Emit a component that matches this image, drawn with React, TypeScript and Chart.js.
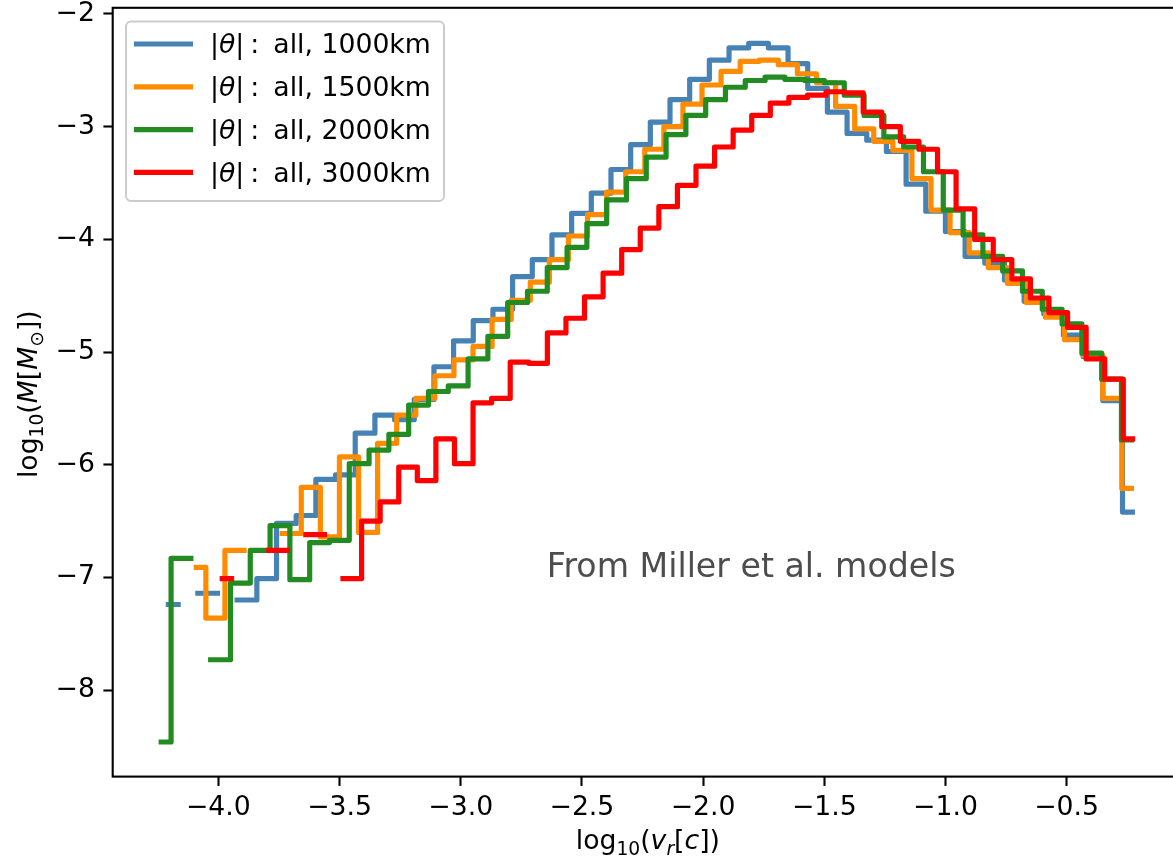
import React, { useEffect, useRef } from 'react';
import { Chart, registerables } from 'chart.js';

Chart.register(...registerables);

// ---- data -----------------------------------------------------------------
const SERIES_NAMES = ['all, 1000km', 'all, 1500km', 'all, 2000km', 'all, 3000km'];
const SERIES_COLORS = ['#4682B4', '#FF8C00', '#228B22', '#FF0000'];

// histogram bins: centre of first and last bin, 50 bins per series
const BIN_COUNT = 50;
const BLUE_BINS = [-4.2065, -0.229];
const ORANGE_BINS = [-4.091, -0.233];
const GREEN_BINS = [-4.236, -0.233];
const RED_BINS = [-3.984, -0.228];

// log10(M) per bin (null = empty bin)
const BLUE_VALUES = [
  -7.24, null, -7.14, null, -7.2, -7.01, -6.52, -6.45, -6.13, -6.09,
  -5.72, -5.56, -5.6, -5.42, -5.13, -4.9, -4.72, -4.62, -4.33, -4.18,
  -3.96, -3.77, -3.59, -3.38, -3.16, -2.96, -2.76, -2.58, -2.41, -2.3,
  -2.26, -2.3, -2.44, -2.66, -2.87, -3.06, -3.12, -3.22, -3.51, -3.75,
  -3.93, -4.15, -4.21, -4.36, -4.55, -4.66, -4.85, -5.04, -5.43, -6.42,
];
const ORANGE_VALUES = [
  -6.91, -7.36, -6.76, null, null, -6.61, -6.2, -6.64, -5.93, -6.6,
  -5.81, -5.56, -5.41, -5.21, -5.07, -4.95, -4.71, -4.54, -4.38, -4.18,
  -3.97, -3.78, -3.58, -3.4, -3.2, -3.0, -2.8, -2.63, -2.51, -2.42,
  -2.41, -2.45, -2.53, -2.61, -2.82, -3.02, -3.13, -3.21, -3.46, -3.74,
  -3.94, -4.12, -4.25, -4.39, -4.56, -4.69, -4.89, -5.03, -5.41, -6.21,
];
const GREEN_VALUES = [
  -8.46, -6.83, null, -7.73, -7.05, -6.76, -6.54, -7.02, -6.69, -6.67,
  -5.99, -5.87, -5.73, -5.47, -5.35, -5.3, -5.06, -4.86, -4.56, -4.46,
  -4.25, -4.07, -3.86, -3.65, -3.46, -3.27, -3.07, -2.9, -2.76, -2.65,
  -2.59, -2.56, -2.58, -2.59, -2.61, -2.72, -2.9, -3.09, -3.18, -3.4,
  -3.74, -3.96, -4.15, -4.28, -4.46, -4.62, -4.75, -5.01, -5.24, -5.78,
];
const RED_VALUES = [
  -7.01, null, null, -6.76, null, -6.62, null, -7.01, -6.5, -6.33,
  -6.02, -6.14, -5.77, -5.99, -5.45, -5.41, -5.09, -5.1, -4.83, -4.7,
  -4.51, -4.3, -4.09, -3.9, -3.71, -3.52, -3.35, -3.18, -3.03, -2.9,
  -2.79, -2.74, -2.72, -2.69, -2.7, -2.87, -3.0, -3.13, -3.2, -3.4,
  -3.73, -4.0, -4.18, -4.35, -4.52, -4.65, -4.78, -5.06, -5.24, -5.77,
];

const X_TICKS = [-4.0, -3.5, -3.0, -2.5, -2.0, -1.5, -1.0, -0.5];
const Y_TICKS = [-8, -7, -6, -5, -4, -3, -2];
const X_LIMITS = [-4.436, -0.02];
const Y_LIMITS = [-8.767, -1.945];
const ANNOTATION = 'From Miller et al. models';
const ANNOTATION_AT = [-2.645, -7.0];

// ---- helpers ---------------------------------------------------------------
const FONT = "'DejaVu Sans', sans-serif";
const FS = 26.7;
const LINE_W = 5.2;

function binCentres(range: number[]) {
  const [a, b] = range;
  const out: number[] = [];
  for (let i = 0; i < BIN_COUNT; i++) out.push(a + ((b - a) * i) / (BIN_COUNT - 1));
  return out;
}

// matplotlib step(where='mid') vertex list
function stepPoints(xs: number[], ys: (number | null)[]) {
  const pts: { x: number; y: number | null }[] = [];
  pts.push({ x: xs[0], y: ys[0] });
  for (let i = 0; i < xs.length - 1; i++) {
    const m = (xs[i] + xs[i + 1]) / 2;
    pts.push({ x: m, y: ys[i] });
    pts.push({ x: m, y: ys[i + 1] });
  }
  pts.push({ x: xs[xs.length - 1], y: ys[ys.length - 1] });
  return pts;
}

const minus = (s: string) => s.replace('-', '\u2212');

type Run = { t: string; it?: boolean; sub?: boolean };
function drawRuns(ctx: CanvasRenderingContext2D, runs: Run[], x0: number, base: number, size: number, center: boolean) {
  const fontOf = (r: Run) => `${r.it ? 'italic ' : ''}${r.sub ? size * 0.7 : size}px ${FONT}`;
  const widths = runs.map((r) => {
    ctx.font = fontOf(r);
    return ctx.measureText(r.t).width;
  });
  const total = widths.reduce((s, w) => s + w, 0);
  let x = center ? x0 - total / 2 : x0;
  runs.forEach((r, i) => {
    ctx.font = fontOf(r);
    ctx.fillText(r.t, x, base + (r.sub ? size * 0.24 : 0));
    x += widths[i];
  });
}

const X_LABEL: Run[] = [
  { t: 'log' }, { t: '10', sub: true }, { t: '(' }, { t: 'v', it: true }, { t: 'r', it: true, sub: true },
  { t: '[' }, { t: 'c', it: true }, { t: '])' },
];
const Y_LABEL: Run[] = [
  { t: 'log' }, { t: '10', sub: true }, { t: '(' }, { t: 'M', it: true }, { t: '[' }, { t: 'M', it: true },
  { t: '\u2299', sub: true }, { t: '])' },
];

const overlay = {
  id: 'overlay',
  afterDraw(chart: any) {
    const ctx: CanvasRenderingContext2D = chart.ctx;
    const a = chart.chartArea;
    ctx.save();
    ctx.textAlign = 'left';
    ctx.textBaseline = 'alphabetic';

    // annotation text (data coordinates)
    ctx.fillStyle = '#4d4d4d';
    ctx.font = `33.2px ${FONT}`;
    ctx.fillText(ANNOTATION, chart.scales.x.getPixelForValue(ANNOTATION_AT[0]), chart.scales.y.getPixelForValue(ANNOTATION_AT[1]));

    // spines
    ctx.strokeStyle = '#000';
    ctx.lineWidth = 2.1;
    ctx.strokeRect(a.left, a.top, a.right - a.left, a.bottom - a.top);

    // legend
    const bx = a.left + 13.3, by = a.top + 13.7, bw = 318, bh = 179.5, r = 5;
    ctx.beginPath();
    ctx.moveTo(bx + r, by);
    ctx.arcTo(bx + bw, by, bx + bw, by + bh, r);
    ctx.arcTo(bx + bw, by + bh, bx, by + bh, r);
    ctx.arcTo(bx, by + bh, bx, by, r);
    ctx.arcTo(bx, by, bx + bw, by, r);
    ctx.closePath();
    ctx.fillStyle = 'rgba(255,255,255,0.8)';
    ctx.fill();
    ctx.strokeStyle = '#cccccc';
    ctx.lineWidth = 2;
    ctx.stroke();

    SERIES_NAMES.forEach((name, i) => {
      const cy = by + 22.5 + i * 42.8;
      ctx.strokeStyle = SERIES_COLORS[i];
      ctx.lineWidth = LINE_W;
      ctx.lineCap = 'square';
      ctx.beginPath();
      ctx.moveTo(bx + 10.5, cy);
      ctx.lineTo(bx + 64.5, cy);
      ctx.stroke();
      ctx.fillStyle = '#000';
      const base = cy + 9.3;
      let x = bx + 84;
      ctx.font = `${FS}px ${FONT}`;
      ctx.fillText('|', x, base);
      x += ctx.measureText('|').width;
      ctx.font = `italic ${FS}px ${FONT}`;
      ctx.fillText('\u03b8', x, base);
      x += ctx.measureText('\u03b8').width;
      ctx.font = `${FS}px ${FONT}`;
      ctx.fillText('|', x, base);
      x += ctx.measureText('|').width + 6;
      ctx.fillText(':', x, base);
      x += ctx.measureText(':').width + 14;
      ctx.fillText(name, x, base);
    });

    // axis labels
    ctx.fillStyle = '#000';
    drawRuns(ctx, X_LABEL, (a.left + a.right) / 2, 849, FS, true);
    ctx.save();
    ctx.translate(37, (a.top + a.bottom) / 2 + 2);
    ctx.rotate(-Math.PI / 2);
    drawRuns(ctx, Y_LABEL, 0, 0, FS, true);
    ctx.restore();

    ctx.restore();
  },
};

export default function App() {
  const ref = useRef<HTMLCanvasElement>(null);
  useEffect(() => {
    const canvas = ref.current;
    if (!canvas) return;
    const ranges = [BLUE_BINS, ORANGE_BINS, GREEN_BINS, RED_BINS];
    const values = [BLUE_VALUES, ORANGE_VALUES, GREEN_VALUES, RED_VALUES];
    const datasets = values.map((vals, i) => ({
      label: SERIES_NAMES[i],
      data: stepPoints(binCentres(ranges[i]), vals),
      borderColor: SERIES_COLORS[i],
      backgroundColor: SERIES_COLORS[i],
      borderWidth: LINE_W,
      borderCapStyle: 'square' as const,
      borderJoinStyle: 'round' as const,
      pointRadius: 0,
      pointHoverRadius: 0,
      spanGaps: false,
      fill: false,
      tension: 0,
      order: 4 - i,
    }));
    const tickFont = { family: FONT, size: FS };
    const chart = new Chart(canvas, {
      type: 'line',
      data: { datasets },
      plugins: [overlay],
      options: {
        responsive: false,
        animation: false,
        devicePixelRatio: 1,
        layout: { padding: { left: 0, top: 7.8, right: 17, bottom: 0 } },
        plugins: { legend: { display: false }, tooltip: { enabled: false } },
        scales: {
          x: {
            type: 'linear',
            min: X_LIMITS[0],
            max: X_LIMITS[1],
            afterBuildTicks: (s: any) => { s.ticks = X_TICKS.map((v) => ({ value: v })); },
            afterFit: (s: any) => { s.height = 82.4; s.paddingLeft = 0; s.paddingRight = 0; },
            grid: { display: true, drawOnChartArea: false, drawTicks: true, tickLength: 9.3, tickWidth: 2.1, tickColor: '#000' },
            border: { display: false },
            ticks: {
              color: '#000', font: tickFont, padding: 6.5, maxRotation: 0, autoSkip: false,
              callback: (v: any) => minus(Number(v).toFixed(1)),
            },
          },
          y: {
            type: 'linear',
            min: Y_LIMITS[0],
            max: Y_LIMITS[1],
            afterBuildTicks: (s: any) => { s.ticks = Y_TICKS.map((v) => ({ value: v })); },
            afterFit: (s: any) => { s.width = 112.7; s.paddingTop = 0; s.paddingBottom = 0; },
            grid: { display: true, drawOnChartArea: false, drawTicks: true, tickLength: 9.3, tickWidth: 2.1, tickColor: '#000' },
            border: { display: false },
            ticks: {
              color: '#000', font: tickFont, padding: 8.5, autoSkip: false,
              callback: (v: any) => minus(Number(v).toFixed(0)),
            },
          },
        },
      },
    } as any);
    return () => chart.destroy();
  }, []);
  return (
    <div style={{ position: 'fixed', left: 0, top: 0, width: 1173, height: 859, overflow: 'hidden', background: '#fff' }}>
      <canvas ref={ref} width={1200} height={859} style={{ display: 'block', width: 1200, height: 859 }} />
    </div>
  );
}
